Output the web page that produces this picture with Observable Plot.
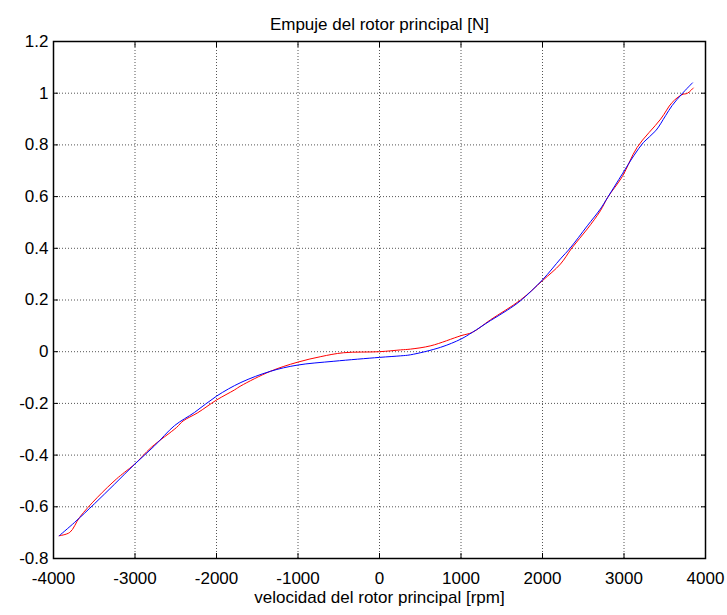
<!DOCTYPE html>
<html>
<head>
<meta charset="utf-8">
<script src="https://cdn.jsdelivr.net/npm/d3@7"></script>
<script src="https://cdn.jsdelivr.net/npm/@observablehq/plot@0.6"></script>
<style>
  html, body { margin: 0; padding: 0; background: #fff; }
  svg { display: block; }
</style>
</head>
<body>
<div id="chart"></div>
<script>
const titleText = "Empuje del rotor principal [N]";
const xLabel = "velocidad del rotor principal [rpm]";

const xTicks = [-4000, -3000, -2000, -1000, 0, 1000, 2000, 3000, 4000];
const yTicks = [-0.8, -0.6, -0.4, -0.2, 0, 0.2, 0.4, 0.6, 0.8, 1, 1.2];

const blueX = [-3930, -3740, -3500, -3250, -3000, -2760, -2515, -2270, -2000, -1700, -1340, -1010, -560, 0, 260, 380, 750, 1000, 1140, 1360, 1570, 1730, 2000, 2220, 2340, 2550, 2710, 2800, 2980, 3120, 3240, 3390, 3510, 3590, 3710, 3840];
const blueY = [-0.712, -0.66, -0.589, -0.512, -0.434, -0.364, -0.286, -0.235, -0.172, -0.119, -0.076, -0.052, -0.037, -0.022, -0.016, -0.012, 0.017, 0.049, 0.075, 0.12, 0.161, 0.197, 0.278, 0.359, 0.401, 0.487, 0.552, 0.597, 0.688, 0.758, 0.81, 0.855, 0.913, 0.952, 0.997, 1.04];

const redX = [-3930, -3800, -3680, -3460, -3230, -3130, -3000, -2800, -2490, -2410, -2230, -2000, -1780, -1700, -1340, -1010, -720, -440, 0, 260, 380, 630, 1000, 1140, 1360, 1730, 2000, 2220, 2360, 2550, 2710, 2800, 2980, 3160, 3450, 3590, 3710, 3780, 3850];
const redY = [-0.712, -0.699, -0.641, -0.563, -0.493, -0.467, -0.434, -0.37, -0.293, -0.268, -0.236, -0.187, -0.148, -0.132, -0.076, -0.041, -0.019, -0.004, 0, 0.007, 0.01, 0.023, 0.062, 0.075, 0.123, 0.2, 0.275, 0.339, 0.401, 0.475, 0.545, 0.597, 0.678, 0.79, 0.9, 0.964, 0.994, 1.0, 1.02];

const blue = blueX.map((x, i) => ({x, y: blueY[i]}));
const red = redX.map((x, i) => ({x, y: redY[i]}));

const fmtY = d => (Math.abs(d) < 1e-9 ? "0" : String(+d.toFixed(1)));
const FONT = "'Liberation Sans', Arial, Helvetica, sans-serif";
const FS = 17;

const chart = Plot.plot({
  width: 727,
  height: 615,
  marginLeft: 53,
  marginRight: 22,
  marginTop: 41,
  marginBottom: 57,
  style: {fontFamily: FONT, fontSize: FS + "px", color: "#000", background: "#fff"},
  x: {domain: [-4000, 4000]},
  y: {domain: [-0.8, 1.2]},
  marks: [
    Plot.gridX(xTicks, {stroke: "#555", strokeOpacity: 1, strokeDasharray: "1,2"}),
    Plot.gridY(yTicks, {stroke: "#555", strokeOpacity: 1, strokeDasharray: "1,2"}),
    Plot.axisX(xTicks, {anchor: "bottom", tickSize: -5, tickPadding: 18, label: null, tickFormat: d => String(d), fontSize: FS}),
    Plot.axisX(xTicks, {anchor: "top", tickSize: -5, label: null, tickFormat: () => ""}),
    Plot.axisY(yTicks, {anchor: "left", tickSize: -5, tickPadding: 10, label: null, tickFormat: fmtY, fontSize: FS}),
    Plot.axisY(yTicks, {anchor: "right", tickSize: -5, label: null, tickFormat: () => ""}),
    Plot.line(red, {x: "x", y: "y", stroke: "#ff0000", strokeWidth: 1, curve: "catmull-rom"}),
    Plot.line(blue, {x: "x", y: "y", stroke: "#0000ff", strokeWidth: 1, curve: "catmull-rom"}),
    Plot.frame({stroke: "#000", strokeWidth: 1.5}),
    Plot.text([titleText], {frameAnchor: "top", dy: -24, text: d => d, fontSize: FS}),
    Plot.text([xLabel], {frameAnchor: "bottom", dy: 44, text: d => d, fontSize: FS})
  ]
});
document.getElementById("chart").append(chart);
</script>
</body>
</html>
